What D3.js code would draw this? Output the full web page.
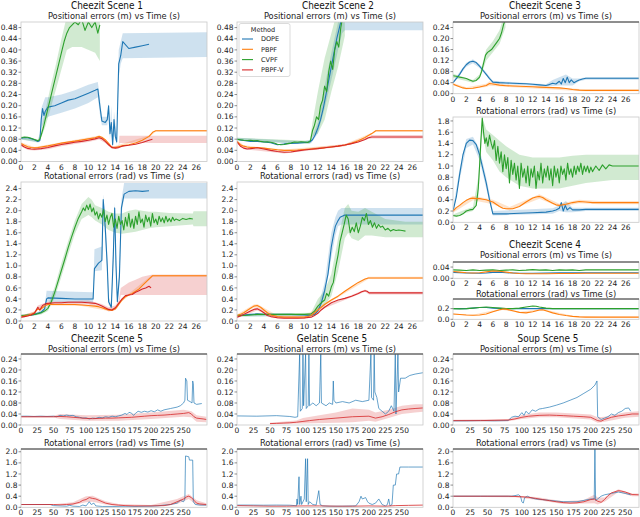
<!DOCTYPE html>
<html>
<head>
<meta charset="utf-8">
<script src="https://cdn.jsdelivr.net/npm/d3@7"></script>
<style>
  body { margin: 0; background: #fff; }
  svg { display: block; font-family: "DejaVu Sans", sans-serif; }
</style>
</head>
<body>
<script>
// methods + colours (matplotlib tab10)
var methods = ["DOPE", "PBPF", "CVPF", "PBPF-V"];
var colors = {"DOPE": "#1f77b4", "PBPF": "#ff7f0e", "CVPF": "#2ca02c", "PBPF-V": "#d62728"};

// tick labels
var xTicksShort = [0, 2, 4, 6, 8, 10, 12, 14, 16, 18, 20, 22, 24, 26];
var xTicksLong = [0, 25, 50, 75, 100, 125, 150, 175, 200, 225, 250];
var yTicksPos48 = [0, 0.04, 0.08, 0.12, 0.16, 0.20, 0.24, 0.28, 0.32, 0.36, 0.40, 0.44, 0.48];
var yTicksRot24 = [0, 0.2, 0.4, 0.6, 0.8, 1.0, 1.2, 1.4, 1.6, 1.8, 2.0, 2.2, 2.4];
var yTicksPos24 = [0, 0.04, 0.08, 0.12, 0.16, 0.20, 0.24];
var yTicksRot18 = [0, 0.2, 0.4, 0.6, 0.8, 1.0, 1.2, 1.4, 1.6, 1.8];
var yTicksPos04 = [0, 0.04];
var yTicksRot02 = [0, 0.2];
var yTicksRot20 = [0, 0.4, 0.8, 1.2, 1.6, 2.0];

// ---------- Cheezit Scene 1, positional: [t, mean] and band [t, lo, hi]
var s1PosDope = [[0,0.083],[0.5,0.086],[1,0.085],[1.5,0.082],[2,0.078],[2.5,0.072],[2.8,0.075],[3.0,0.15],[3.2,0.19],[3.4,0.165],[3.6,0.18],[4,0.195],[5,0.2],[6,0.21],[7,0.22],[8,0.225],[9,0.235],[10,0.245],[11,0.255],[11.4,0.26],[11.7,0.2],[12,0.145],[12.5,0.14],[12.8,0.15],[13.0,0.2],[13.2,0.1],[13.4,0.14],[13.6,0.06],[13.8,0.15],[14.0,0.09],[14.2,0.07],[14.5,0.35],[14.8,0.38],[15.1,0.43],[16,0.405],[17,0.41],[18,0.415],[19,0.42]];
var s1PosDopeBand = [[0,0.079,0.087],[2.5,0.068,0.076],[2.8,0.07,0.08],[3.0,0.12,0.19],[3.6,0.15,0.23],[4,0.16,0.23],[6,0.175,0.24],[8,0.19,0.255],[10,0.21,0.275],[11.4,0.23,0.285],[11.7,0.17,0.23],[12,0.13,0.16],[12.8,0.13,0.16],[13.0,0.17,0.21],[13.2,0.08,0.12],[13.4,0.12,0.2],[13.6,0.05,0.07],[13.8,0.1,0.18],[14.2,0.06,0.09],[14.5,0.3,0.4],[14.8,0.35,0.43],[15.1,0.37,0.46],[27.6,0.375,0.463]];
var s1PosCvpf = [[0,0.085],[0.5,0.088],[1,0.087],[1.5,0.083],[2,0.079],[2.5,0.074],[2.8,0.08],[3.0,0.095],[3.3,0.12],[3.6,0.15],[4,0.19],[4.4,0.23],[4.8,0.27],[5.2,0.31],[5.6,0.35],[6,0.39],[6.4,0.43],[6.8,0.46],[7.2,0.48],[7.6,0.49],[8,0.5],[8.5,0.49],[9,0.51],[9.5,0.47],[10,0.5],[10.5,0.48],[11,0.5],[11.4,0.46],[11.7,0.49]];
var s1PosCvpfBand = [[0,0.08,0.09],[2.5,0.07,0.08],[3.0,0.085,0.11],[3.6,0.125,0.18],[4.4,0.19,0.27],[5.2,0.26,0.35],[6,0.33,0.44],[6.8,0.4,0.52],[7.6,0.41,0.56],[9,0.41,0.58],[11,0.39,0.58],[11.7,0.36,0.58]];
var s1PosPbpf = [[0,0.065],[0.5,0.058],[1,0.053],[1.5,0.05],[2,0.049],[2.5,0.05],[3,0.052],[4,0.056],[5,0.061],[6,0.066],[7,0.07],[8,0.073],[9,0.077],[10,0.081],[11,0.085],[11.6,0.09],[12,0.087],[12.5,0.078],[13,0.065],[13.3,0.055],[13.6,0.05],[14,0.05],[14.5,0.053],[15,0.056],[16,0.06],[17,0.066],[18,0.076],[19,0.09],[19.6,0.106],[20,0.11],[27.6,0.11]];
var s1PosPbpfBand = [[0,0.061,0.069],[2,0.046,0.052],[11.6,0.087,0.093],[13.6,0.047,0.053],[19,0.087,0.093],[20,0.107,0.113],[27.6,0.107,0.113]];
var s1PosPbpfv = [[0,0.06],[0.5,0.052],[1,0.047],[1.5,0.045],[2,0.044],[3,0.046],[4,0.05],[5,0.056],[6,0.061],[7,0.065],[8,0.069],[9,0.072],[10,0.076],[11,0.081],[11.6,0.085],[12,0.082],[12.5,0.072],[13,0.06],[13.5,0.05],[14,0.048],[14.5,0.05],[15,0.055],[16,0.058],[17,0.062],[18,0.068],[19,0.076],[19.5,0.08]];
var s1PosPbpfvBand = [[0,0.055,0.066],[1,0.041,0.053],[2,0.039,0.05],[4,0.044,0.056],[6,0.055,0.067],[8,0.063,0.075],[10,0.07,0.082],[11.6,0.079,0.091],[12.5,0.066,0.078],[13.5,0.045,0.056],[14.5,0.045,0.056],[14.6,0.066,0.092],[27.6,0.066,0.092]];

// ---------- Cheezit Scene 1, rotational
var s1RotDope = [[0,0.1],[1,0.1],[2,0.12],[2.5,0.14],[3,0.16],[3.5,0.22],[3.8,0.4],[4,0.42],[6,0.41],[8,0.4],[10,0.4],[10.7,0.4],[10.9,0.95],[11.5,1.05],[12,1.1],[12.2,2.2],[12.5,1.7],[12.8,1.0],[13.0,0.35],[13.4,0.25],[13.7,1.2],[13.9,2.05],[14.1,1.0],[14.3,0.35],[14.6,0.8],[14.9,2.05],[15.3,2.3],[16,2.35],[17,2.36],[18,2.35],[19,2.36]];
var s1RotDopeBand = [[0,0.08,0.12],[2,0.1,0.14],[3,0.13,0.19],[3.5,0.18,0.26],[3.8,0.35,0.55],[8,0.34,0.53],[10.7,0.33,0.52],[10.9,0.9,1.3],[12,0.92,1.35],[12.2,2.0,2.3],[12.5,1.5,1.9],[12.8,0.8,1.2],[13.0,0.3,0.45],[13.4,0.22,0.3],[13.7,1.0,1.5],[13.9,1.9,2.15],[14.1,0.8,1.2],[14.3,0.3,0.45],[14.6,0.7,1.0],[14.9,1.95,2.2],[15.3,2.22,2.5],[27.6,2.22,2.5]];
var s1RotCvpf = [[0,0.1],[0.5,0.1],[1,0.11],[1.5,0.11],[2,0.12],[2.5,0.13],[3,0.15],[3.5,0.18],[4,0.23],[4.5,0.35],[5,0.52],[5.5,0.72],[6,0.92],[6.5,1.12],[7,1.33],[7.5,1.52],[8,1.7],[8.5,1.86],[9,1.98],[9.25,2.05],[9.5,2.0],[9.75,2.1],[10,2.02],[10.25,2.12],[10.5,1.98],[10.75,2.05],[11,1.92],[11.25,1.98],[11.5,1.85],[11.75,1.95],[12,1.88],[12.25,2.02],[12.5,1.8],[12.75,1.92],[13,1.75],[13.25,1.88],[13.5,1.95],[13.75,1.7],[14,1.85],[14.25,1.68],[14.5,1.9],[14.75,1.75],[15,1.82],[15.25,1.65],[15.5,1.88],[15.75,1.72],[16,1.95],[16.25,1.7],[16.5,1.85],[16.75,1.68],[17,1.9],[17.25,1.75],[17.5,1.98],[17.75,1.78],[18,1.85],[18.25,1.7],[18.5,1.92],[18.75,1.8],[19,1.88],[19.25,1.72],[19.5,1.95],[19.75,1.78],[20,1.85],[20.25,1.75],[20.5,1.9],[20.75,1.8],[21,1.87],[21.25,1.78],[21.5,1.9],[21.75,1.8],[22,1.86],[22.25,1.8],[22.5,1.88],[22.75,1.82],[23,1.85],[23.5,1.82],[24,1.86],[24.5,1.84],[25,1.86],[25.5,1.85]];
var s1RotCvpfBand = [[0,0.08,0.12],[2,0.1,0.14],[3,0.12,0.18],[4,0.18,0.28],[5,0.42,0.62],[6,0.8,1.05],[7,1.2,1.45],[8,1.58,1.82],[9,1.85,2.12],[10,1.92,2.25],[10.5,1.88,2.2],[11,1.82,2.1],[12,1.75,2.05],[13,1.65,1.98],[14,1.6,1.95],[15,1.58,1.95],[16,1.6,2.0],[17,1.62,2.02],[18,1.65,2.0],[19,1.68,1.98],[20,1.7,1.98],[22,1.72,1.96],[25.5,1.75,1.95],[25.6,1.72,1.99],[27.6,1.72,1.99]];
var s1RotPbpf = [[0,0.08],[0.5,0.09],[1,0.1],[1.5,0.12],[2,0.15],[2.5,0.22],[2.8,0.2],[3.2,0.24],[3.6,0.28],[4,0.3],[5,0.3],[6,0.3],[7,0.3],[8,0.3],[9,0.29],[10,0.28],[11,0.27],[11.5,0.26],[12,0.24],[12.5,0.22],[13,0.2],[13.5,0.19],[14,0.22],[14.5,0.3],[15,0.38],[15.5,0.44],[16,0.47],[16.5,0.5],[17,0.54],[17.5,0.58],[18,0.64],[18.5,0.7],[19,0.76],[19.5,0.82],[27.6,0.82]];
var s1RotPbpfBand = [[0,0.06,0.1],[2,0.13,0.17],[2.5,0.2,0.24],[4,0.28,0.32],[9,0.27,0.31],[13,0.18,0.22],[14,0.2,0.24],[15,0.36,0.4],[19.5,0.8,0.84],[27.6,0.8,0.84]];
var s1RotPbpfv = [[0,0.07],[0.5,0.08],[1,0.09],[1.5,0.11],[2,0.14],[2.5,0.25],[2.8,0.2],[3.2,0.28],[3.6,0.31],[4,0.32],[5,0.33],[6,0.33],[7,0.34],[8,0.34],[9,0.34],[10,0.33],[11,0.32],[11.5,0.3],[12,0.27],[12.5,0.24],[13,0.21],[13.5,0.2],[14,0.24],[14.5,0.32],[15,0.4],[15.5,0.46],[16,0.47],[16.5,0.48],[17,0.52],[17.5,0.55],[18,0.58],[18.5,0.6],[19,0.63],[19.3,0.6]];
var s1RotPbpfvBand = [[0,0.05,0.09],[2,0.12,0.17],[2.5,0.22,0.28],[4,0.29,0.35],[10,0.3,0.37],[12,0.24,0.31],[13,0.17,0.25],[14,0.2,0.28],[14.5,0.27,0.37],[14.8,0.47,0.6],[16,0.47,0.7],[17,0.47,0.75],[18,0.47,0.8],[19.3,0.47,0.84],[27.6,0.47,0.84]];

// ---------- Cheezit Scene 2, positional
var s2PosDope = [[0,0.08],[0.5,0.077],[1,0.075],[2,0.072],[3,0.072],[4,0.07],[5,0.067],[6,0.06],[7,0.063],[8,0.065],[9,0.066],[10,0.068],[10.8,0.07],[11.2,0.078],[11.6,0.095],[12,0.12],[12.4,0.15],[12.8,0.19],[13.2,0.24],[13.6,0.29],[14,0.34],[14.4,0.39],[14.8,0.44],[15.2,0.48],[15.6,0.52],[16,0.54],[19.5,0.54]];
var s2PosDopeBand = [[0,0.075,0.085],[10,0.063,0.073],[11,0.065,0.08],[12,0.1,0.14],[13,0.19,0.27],[14,0.29,0.39],[15,0.4,0.5],[15.6,0.46,0.56],[16,0.47,0.56],[27.6,0.47,0.56]];
var s2PosCvpf = [[0,0.08],[0.5,0.078],[1,0.076],[1.5,0.075],[2,0.076],[2.5,0.074],[3,0.075],[3.5,0.072],[4,0.07],[4.5,0.071],[5,0.069],[5.5,0.066],[6,0.062],[6.5,0.06],[7,0.061],[7.5,0.064],[8,0.066],[8.5,0.07],[9,0.069],[9.5,0.071],[10,0.07],[10.5,0.068],[10.9,0.075],[11.2,0.11],[11.5,0.13],[11.8,0.16],[12.1,0.15],[12.4,0.2],[12.7,0.22],[13,0.27],[13.3,0.25],[13.6,0.32],[13.9,0.36],[14.2,0.33],[14.5,0.4],[14.8,0.43],[15.1,0.41],[15.4,0.48],[15.7,0.52],[16,0.56]];
var s2PosCvpfBand = [[0,0.075,0.085],[10.8,0.064,0.074],[11.2,0.09,0.14],[12,0.1,0.25],[13,0.15,0.37],[14,0.25,0.46],[15,0.34,0.55],[16,0.45,0.6]];
var s2PosPbpf = [[0,0.072],[0.5,0.06],[1,0.055],[1.5,0.052],[2,0.05],[3,0.05],[4,0.048],[5,0.045],[6,0.042],[7,0.04],[8,0.04],[9,0.041],[10,0.043],[11,0.045],[12,0.047],[13,0.049],[14,0.052],[15,0.055],[16,0.059],[17,0.065],[18,0.074],[19,0.086],[20,0.1],[20.6,0.11],[27.6,0.11]];
var s2PosPbpfBand = [[0,0.068,0.076],[1,0.052,0.058],[7,0.037,0.043],[16,0.056,0.062],[20,0.097,0.103],[20.6,0.107,0.113],[27.6,0.107,0.113]];
var s2PosPbpfv = [[0,0.07],[0.5,0.055],[1,0.048],[1.5,0.045],[2,0.046],[3,0.049],[4,0.045],[5,0.04],[6,0.036],[7,0.033],[8,0.034],[9,0.038],[10,0.041],[11,0.044],[12,0.046],[13,0.049],[14,0.052],[15,0.055],[16,0.059],[17,0.064],[18,0.07],[19,0.079],[19.5,0.085],[20,0.088],[27.6,0.088]];
var s2PosPbpfvBand = [[0,0.066,0.074],[1,0.044,0.052],[7,0.029,0.037],[16,0.055,0.063],[19.5,0.081,0.089],[20,0.082,0.095],[27.6,0.082,0.095]];

// ---------- Cheezit Scene 2, rotational
var s2RotDope = [[0,0.1],[1,0.11],[2,0.12],[3,0.13],[4,0.12],[6,0.12],[8,0.12],[10,0.11],[11,0.1],[11.5,0.12],[12,0.18],[12.5,0.32],[13,0.55],[13.5,0.85],[13.8,1.15],[14,1.35],[14.3,1.55],[14.6,1.72],[15,1.82],[15.3,1.88],[16,1.92],[27.6,1.92]];
var s2RotDopeBand = [[0,0.08,0.12],[11,0.08,0.12],[12,0.14,0.24],[13,0.45,0.7],[14,1.15,1.6],[14.6,1.55,1.88],[15,1.72,2.0],[15.5,1.75,2.05],[27.6,1.75,2.05]];
var s2RotCvpf = [[0,0.1],[1,0.1],[2,0.11],[3,0.12],[4,0.12],[5,0.12],[6,0.12],[7,0.12],[8,0.12],[9,0.12],[10,0.12],[11,0.13],[11.5,0.18],[12,0.27],[12.5,0.33],[13,0.38],[13.3,0.5],[13.6,0.45],[14,0.62],[14.3,0.7],[14.6,0.95],[15,1.2],[15.3,1.45],[15.6,1.6],[15.9,1.75],[16.2,1.92],[16.5,1.85],[16.8,1.6],[17.1,1.7],[17.4,1.62],[17.7,1.78],[18,1.6],[18.3,1.72],[18.6,1.88],[18.9,1.82],[19.2,1.95],[19.5,1.75],[19.8,1.82],[20.1,1.7],[20.4,1.78],[20.7,1.68],[21,1.75],[21.3,1.7],[21.6,1.72],[22,1.65],[22.4,1.68],[22.8,1.63],[23.2,1.66],[23.6,1.64],[24,1.65],[24.5,1.64],[25,1.63]];
var s2RotCvpfBand = [[0,0.08,0.12],[11,0.1,0.15],[12,0.2,0.4],[13,0.28,0.55],[14,0.45,0.85],[15,0.9,1.5],[16,1.5,2.05],[16.5,1.6,2.12],[17,1.5,2.0],[18,1.45,1.98],[19,1.55,2.05],[20,1.55,1.98],[22,1.52,1.85],[25,1.52,1.8],[27.6,1.52,1.8]];
var s2RotPbpf = [[0,0.1],[0.5,0.12],[1,0.15],[1.5,0.19],[2,0.23],[2.5,0.27],[3,0.28],[3.5,0.25],[4,0.2],[4.5,0.15],[5,0.11],[6,0.08],[7,0.07],[8,0.07],[9,0.07],[10,0.07],[10.5,0.08],[11,0.1],[11.5,0.15],[12,0.2],[12.5,0.25],[13,0.3],[14,0.38],[15,0.45],[16,0.54],[17,0.62],[18,0.7],[19,0.76],[19.5,0.78],[27.6,0.78]];
var s2RotPbpfBand = [[0,0.08,0.12],[2.5,0.24,0.3],[3,0.25,0.31],[6,0.06,0.1],[10,0.05,0.09],[13,0.28,0.32],[19.5,0.76,0.8],[27.6,0.76,0.8]];
var s2RotPbpfv = [[0,0.07],[0.5,0.09],[1,0.12],[1.5,0.15],[2,0.18],[2.5,0.21],[3,0.22],[3.5,0.19],[4,0.15],[4.5,0.1],[5,0.08],[6,0.06],[7,0.05],[8,0.05],[9,0.05],[10,0.055],[11,0.07],[11.5,0.1],[12,0.14],[12.5,0.2],[13,0.25],[14,0.33],[15,0.38],[16,0.41],[17,0.45],[18,0.5],[18.5,0.53],[19,0.55],[19.3,0.54],[19.6,0.51],[27.6,0.51]];
var s2RotPbpfvBand = [[0,0.05,0.09],[3,0.19,0.25],[6,0.04,0.08],[10,0.035,0.075],[13,0.23,0.27],[19,0.53,0.57],[19.6,0.48,0.53],[27.6,0.48,0.53]];

// ---------- Cheezit Scene 3
var s3PosDope = [[0,0.04],[0.5,0.055],[1,0.07],[1.5,0.09],[2,0.105],[2.5,0.115],[3,0.118],[3.5,0.113],[4,0.1],[4.5,0.085],[5,0.07],[5.5,0.055],[6,0.042],[7,0.04],[8,0.039],[9,0.038],[10,0.037],[11,0.036],[12,0.034],[13,0.032],[14,0.03],[14.5,0.033],[15,0.038],[15.5,0.035],[16,0.045],[16.3,0.035],[16.6,0.055],[16.9,0.04],[17.2,0.06],[17.5,0.04],[17.8,0.05],[18.2,0.04],[18.6,0.045],[19,0.05],[19.5,0.053],[20,0.056],[28,0.056]];
var s3PosDopeBand = [[0,0.035,0.045],[2,0.098,0.112],[3,0.11,0.125],[4,0.093,0.107],[6,0.037,0.047],[14,0.026,0.034],[15,0.028,0.05],[16,0.03,0.06],[17,0.03,0.07],[18,0.03,0.055],[19,0.045,0.055],[20,0.051,0.06],[28,0.051,0.06]];
var s3PosCvpf = [[0,0.065],[0.5,0.063],[1,0.06],[1.5,0.058],[2,0.055],[2.5,0.05],[3,0.045],[3.5,0.048],[4,0.06],[4.3,0.08],[4.6,0.11],[4.9,0.14],[5.2,0.15],[5.5,0.155],[5.8,0.16],[6.1,0.17],[6.4,0.18],[6.7,0.19],[7,0.2],[7.3,0.22],[7.6,0.25],[7.9,0.27]];
var s3PosCvpfBand = [[0,0.058,0.072],[3,0.04,0.05],[4,0.052,0.07],[5,0.12,0.16],[6,0.15,0.19],[7,0.18,0.23],[7.9,0.24,0.3]];
var s3PosPbpf = [[0,0.035],[0.5,0.03],[1,0.025],[1.5,0.021],[2,0.019],[3,0.02],[4,0.024],[5,0.03],[5.5,0.037],[6,0.035],[7,0.031],[8,0.029],[9,0.028],[10,0.027],[11,0.026],[12,0.025],[13,0.024],[14,0.023],[15,0.022],[16,0.021],[17,0.019],[18,0.015],[19,0.013],[20,0.012],[28,0.012]];
var s3PosPbpfBand = [[0,0.031,0.039],[2,0.015,0.023],[5,0.024,0.036],[5.5,0.029,0.045],[6,0.028,0.042],[8,0.025,0.033],[18,0.011,0.019],[20,0.009,0.015],[28,0.009,0.015]];
var s3RotDope = [[0,0.2],[0.5,0.45],[1,0.85],[1.5,1.2],[2,1.4],[2.5,1.46],[3,1.45],[3.5,1.38],[4,1.2],[4.5,0.95],[5,0.7],[5.5,0.4],[6,0.15],[7,0.15],[8,0.15],[10,0.16],[12,0.17],[14,0.18],[15,0.2],[15.5,0.22],[16,0.25],[16.3,0.35],[16.6,0.2],[16.9,0.3],[17.2,0.22],[17.6,0.26],[18,0.22],[19,0.22],[20,0.23],[28,0.23]];
var s3RotDopeBand = [[0,0.15,0.25],[1,0.75,0.95],[2,1.32,1.48],[3,1.38,1.52],[4,1.1,1.3],[5,0.6,0.8],[6,0.12,0.2],[15,0.15,0.25],[16,0.2,0.3],[17,0.18,0.38],[18,0.18,0.26],[20,0.2,0.26],[28,0.2,0.26]];
var s3RotCvpf = [[0,0.12],[0.5,0.11],[1,0.12],[1.5,0.15],[2,0.2],[2.5,0.22],[3,0.23],[3.5,0.3],[3.8,0.6],[4,1.0],[4.2,1.45],[4.4,1.85],[4.6,1.6],[4.8,1.4],[5,1.5],[5.25,1.35],[5.5,1.55],[5.75,1.4],[6,1.3],[6.25,1.45],[6.5,1.1],[6.75,1.35],[7,1.05],[7.25,1.25],[7.5,0.9],[7.75,1.2],[8,0.95],[8.25,1.15],[8.5,0.7],[8.75,1.1],[9,0.85],[9.25,1.05],[9.5,0.75],[9.75,1.0],[10,0.6],[10.25,1.05],[10.5,0.8],[10.75,0.95],[11,0.7],[11.25,1.0],[11.5,0.65],[11.75,0.95],[12,0.8],[12.25,1.0],[12.5,0.6],[12.75,0.9],[13,0.75],[13.25,1.05],[13.5,0.7],[13.75,0.95],[14,0.8],[14.25,1.0],[14.5,0.75],[14.75,0.95],[15,0.65],[15.25,1.0],[15.5,0.8],[15.75,0.95],[16,0.7],[16.25,1.0],[16.5,0.85],[16.75,0.95],[17,0.75],[17.25,1.05],[17.5,0.85],[17.75,0.95],[18,0.8],[18.25,1.0],[18.5,0.85],[18.75,1.0],[19,0.9],[19.25,1.05],[19.5,0.85],[19.75,1.0],[20,0.9],[20.25,1.0],[20.5,0.88],[20.75,0.98],[21,0.9],[21.5,1.0],[22,0.92],[22.5,1.02],[23,0.95],[23.5,1.02],[24,1.0],[28,1.0]];
var s3RotCvpfBand = [[0,0.1,0.14],[2,0.17,0.23],[3,0.2,0.27],[3.8,0.4,0.8],[4.4,1.6,1.87],[5,1.25,1.65],[6,1.1,1.55],[7,0.9,1.45],[8,0.8,1.35],[10,0.65,1.2],[12,0.6,1.15],[16,0.6,1.15],[18,0.65,1.18],[20,0.7,1.2],[24,0.75,1.2],[28,0.75,1.2]];
var s3RotPbpf = [[0,0.2],[0.5,0.26],[1,0.3],[1.5,0.35],[2,0.39],[2.5,0.42],[3,0.43],[3.5,0.42],[4,0.42],[4.5,0.41],[5,0.4],[5.5,0.38],[6,0.36],[6.5,0.32],[7,0.28],[7.5,0.25],[8,0.24],[9,0.24],[10,0.28],[11,0.36],[12,0.43],[12.5,0.45],[13,0.46],[13.5,0.44],[14,0.4],[14.5,0.37],[15,0.34],[15.5,0.31],[16,0.3],[17,0.32],[18,0.35],[19,0.37],[20,0.36],[21,0.35],[22,0.35],[28,0.35]];
var s3RotPbpfBand = [[0,0.17,0.23],[3,0.39,0.47],[6,0.32,0.4],[8.5,0.21,0.27],[13,0.42,0.5],[16,0.27,0.33],[19,0.34,0.4],[22,0.32,0.38],[28,0.32,0.38]];

// ---------- Cheezit Scene 4
var s4PosDope = [[0,0.021],[2,0.019],[4,0.018],[5,0.019],[6,0.021],[7,0.022],[8,0.02],[10,0.018],[12,0.018],[14,0.019],[16,0.02],[18,0.02],[20,0.02],[28,0.02]];
var s4PosCvpf = [[0,0.03],[1,0.029],[2,0.028],[3,0.03],[4,0.028],[5,0.029],[6,0.03],[7,0.028],[8,0.029],[9,0.03],[10,0.028],[11,0.029],[12,0.031],[13,0.029],[14,0.03],[15,0.028],[16,0.03],[17,0.029],[18,0.03],[19,0.028],[20,0.03],[22,0.03],[28,0.03]];
var s4PosPbpf = [[0,0.024],[1,0.022],[2,0.02],[3,0.019],[4,0.02],[5,0.023],[6,0.026],[7,0.025],[8,0.022],[9,0.019],[10,0.017],[11,0.016],[12,0.016],[14,0.016],[16,0.017],[18,0.017],[20,0.018],[28,0.018]];
var s4RotDope = [[0,0.2],[2,0.2],[3,0.21],[4,0.22],[5,0.22],[6,0.21],[8,0.2],[10,0.2],[12,0.2],[14,0.2],[16,0.2],[28,0.2]];
var s4RotCvpf = [[0,0.2],[1,0.195],[2,0.2],[3,0.21],[4,0.22],[5,0.23],[6,0.22],[7,0.21],[8,0.2],[9,0.2],[10,0.21],[11,0.23],[12,0.25],[12.5,0.245],[13,0.23],[14,0.21],[15,0.2],[16,0.2],[28,0.2]];
var s4RotPbpf = [[0,0.1],[1,0.09],[2,0.08],[3,0.075],[4,0.08],[5,0.1],[6,0.14],[7,0.18],[7.5,0.19],[8,0.19],[9,0.16],[10,0.13],[11,0.12],[12,0.14],[13,0.175],[13.5,0.18],[14,0.16],[15,0.12],[16,0.09],[17,0.07],[18,0.055],[19,0.045],[20,0.04],[22,0.04],[28,0.04]];
var s4RotPbpfBand = [[0,0.09,0.11],[3,0.065,0.085],[7.5,0.175,0.205],[10,0.12,0.14],[13.5,0.165,0.195],[18,0.045,0.065],[22,0.032,0.048],[28,0.032,0.048]];

// ---------- Cheezit Scene 5 (long runs)
var c5PosDope = [[0,0.032],[10,0.032],[20,0.031],[30,0.032],[40,0.031],[50,0.032],[55,0.03],[60,0.035],[65,0.033],[70,0.036],[75,0.034],[80,0.035],[85,0.03],[90,0.028],[95,0.025],[100,0.026],[105,0.022],[110,0.025],[115,0.024],[120,0.028],[125,0.026],[130,0.03],[135,0.028],[140,0.032],[145,0.03],[150,0.033],[155,0.036],[160,0.042],[163,0.038],[166,0.046],[170,0.043],[173,0.035],[176,0.042],[180,0.05],[185,0.046],[190,0.05],[195,0.047],[200,0.052],[205,0.048],[210,0.055],[215,0.05],[220,0.055],[230,0.06],[240,0.065],[245,0.07],[250,0.08],[252,0.09],[253,0.17],[255,0.16],[256,0.09],[260,0.085],[263,0.08],[264,0.16],[265,0.15],[266,0.08],[270,0.075],[278,0.078]];
var c5PosPbpfv = [[0,0.03],[20,0.03],[40,0.03],[50,0.03],[60,0.031],[70,0.03],[80,0.028],[90,0.026],[100,0.024],[110,0.023],[120,0.024],[130,0.025],[140,0.025],[150,0.026],[160,0.027],[170,0.028],[180,0.03],[190,0.032],[200,0.034],[210,0.035],[220,0.036],[230,0.038],[240,0.04],[250,0.042],[258,0.045],[262,0.04],[266,0.03],[270,0.025],[280,0.022],[285,0.02]];
var c5PosPbpfvBand = [[0,0.027,0.033],[50,0.027,0.034],[60,0.022,0.04],[100,0.015,0.035],[150,0.015,0.037],[200,0.022,0.045],[250,0.03,0.055],[262,0.028,0.05],[270,0.012,0.035],[285,0.01,0.03]];
var c5RotDope = [[0,0.1],[45,0.1],[50,0.06],[60,0.05],[70,0.04],[75,0.07],[80,0.04],[90,0.03],[95,0.08],[100,0.05],[105,0.2],[108,0.1],[112,0.15],[115,0.05],[125,0.03],[140,0.03],[160,0.02],[180,0.03],[200,0.04],[210,0.05],[220,0.08],[230,0.1],[240,0.15],[245,0.25],[250,0.2],[252,0.3],[253,1.85],[258,1.82],[259,1.7],[264,1.7],[265,0.2],[268,0.1],[275,0.08],[285,0.08]];
var c5RotPbpfv = [[0,0.1],[20,0.1],[40,0.1],[50,0.1],[60,0.09],[70,0.1],[80,0.12],[90,0.18],[95,0.25],[100,0.28],[105,0.35],[110,0.32],[115,0.3],[120,0.25],[125,0.2],[130,0.15],[140,0.1],[150,0.08],[160,0.06],[175,0.05],[200,0.05],[220,0.06],[230,0.1],[240,0.2],[250,0.3],[255,0.38],[258,0.4],[262,0.35],[266,0.25],[270,0.15],[275,0.12],[285,0.1]];
var c5RotPbpfvBand = [[0,0.09,0.11],[50,0.09,0.11],[80,0.08,0.18],[100,0.18,0.4],[110,0.2,0.42],[130,0.1,0.22],[150,0.05,0.12],[200,0.03,0.08],[240,0.12,0.3],[258,0.3,0.48],[270,0.08,0.25],[285,0.05,0.15]];

// ---------- Gelatin Scene 5
var g5PosDope = [[0,0.033],[30,0.032],[60,0.034],[80,0.031],[88,0.028],[92,0.03],[95,0.26],[96,0.05],[99,0.06],[100,0.26],[101,0.07],[104,0.26],[105,0.06],[108,0.07],[109,0.26],[110,0.07],[115,0.08],[120,0.07],[125,0.08],[127,0.26],[128,0.08],[135,0.07],[140,0.08],[145,0.075],[146,0.16],[147,0.09],[150,0.08],[160,0.085],[170,0.08],[180,0.09],[190,0.085],[200,0.09],[203,0.26],[204,0.1],[207,0.09],[208,0.26],[209,0.12],[212,0.1],[215,0.06],[220,0.05],[225,0.04],[230,0.05],[234,0.07],[238,0.05],[240,0.26],[241,0.04],[244,0.26],[245,0.12],[248,0.17],[255,0.17],[262,0.18],[270,0.185],[282,0.19]];
var g5PosPbpfv = [[50,0.005],[60,0.006],[70,0.007],[80,0.008],[90,0.01],[100,0.013],[110,0.016],[125,0.02],[150,0.025],[175,0.03],[200,0.032],[210,0.025],[220,0.03],[230,0.038],[240,0.048],[250,0.055],[260,0.058],[270,0.06],[282,0.062]];
var g5PosPbpfvBand = [[50,0.003,0.008],[90,0.005,0.016],[100,0.005,0.025],[150,0.008,0.045],[175,0.01,0.06],[200,0.015,0.055],[210,0.012,0.045],[230,0.025,0.055],[250,0.04,0.07],[270,0.045,0.075],[282,0.048,0.075]];
var g5RotDope = [[0,0.08],[20,0.08],[40,0.075],[60,0.08],[80,0.075],[88,0.06],[90,0.05],[91,0.3],[92,0.1],[94,1.1],[95,0.1],[97,0.4],[98,0.1],[102,0.3],[104,1.75],[105,0.2],[107,1.75],[108,0.1],[110,0.2],[115,0.1],[120,0.08],[124,0.6],[126,0.1],[130,0.05],[140,0.04],[160,0.04],[180,0.05],[185,0.2],[188,0.4],[190,0.3],[195,0.35],[198,0.2],[200,0.15],[205,0.1],[210,0.15],[215,0.3],[220,0.1],[225,0.05],[228,0.1],[230,0.3],[232,0.05],[235,0.1],[237,0.8],[240,0.8],[242,1.2],[245,1.2],[247,1.45],[260,1.45],[282,1.45]];
var g5RotPbpfv = [[0,0.06],[25,0.05],[50,0.04],[75,0.04],[100,0.05],[125,0.05],[150,0.04],[175,0.04],[200,0.05],[225,0.04],[240,0.06],[260,0.07],[282,0.08]];

// ---------- Soup Scene 5
var p5PosDope = [[0,0.015],[20,0.015],[40,0.016],[60,0.015],[80,0.016],[85,0.028],[90,0.032],[95,0.03],[100,0.045],[103,0.035],[106,0.05],[110,0.04],[115,0.055],[120,0.05],[125,0.058],[130,0.06],[140,0.065],[150,0.072],[160,0.08],[170,0.09],[180,0.1],[190,0.115],[200,0.13],[206,0.145],[209,0.16],[210,0.03],[215,0.02],[220,0.025],[225,0.03],[230,0.04],[235,0.035],[240,0.045],[245,0.05],[250,0.06],[255,0.062],[258,0.05]];
var p5PosPbpfv = [[0,0.016],[40,0.016],[80,0.018],[90,0.022],[100,0.028],[110,0.032],[125,0.035],[140,0.036],[150,0.035],[160,0.034],[175,0.032],[190,0.03],[200,0.028],[205,0.022],[210,0.016],[215,0.014],[220,0.02],[230,0.028],[240,0.033],[250,0.036],[260,0.04],[270,0.04]];
var p5PosPbpfvBand = [[0,0.013,0.019],[80,0.014,0.022],[100,0.022,0.036],[125,0.028,0.045],[150,0.028,0.045],[200,0.02,0.038],[210,0.008,0.028],[220,0.012,0.03],[250,0.026,0.046],[270,0.03,0.05]];
var p5RotDope = [[0,0.4],[50,0.4],[85,0.4],[90,0.42],[95,0.45],[98,0.4],[100,0.2],[102,0.15],[104,0.35],[108,0.4],[112,0.35],[120,0.3],[140,0.25],[160,0.2],[180,0.2],[200,0.3],[205,0.3],[206,2.1],[207,0.25],[210,0.3],[215,0.4],[220,0.45],[230,0.5],[240,0.55],[250,0.5],[258,0.45]];
var p5RotPbpfv = [[0,0.4],[40,0.4],[80,0.4],[90,0.39],[100,0.38],[110,0.36],[120,0.32],[130,0.28],[140,0.24],[150,0.2],[160,0.17],[170,0.15],[180,0.16],[190,0.2],[200,0.28],[205,0.3],[210,0.22],[215,0.18],[220,0.28],[225,0.42],[230,0.52],[240,0.6],[245,0.58],[250,0.55],[260,0.46],[270,0.45]];
var p5RotPbpfvBand = [[0,0.38,0.42],[90,0.36,0.42],[120,0.27,0.37],[160,0.12,0.22],[190,0.14,0.26],[205,0.15,0.45],[210,0.1,0.35],[220,0.2,0.35],[240,0.55,0.65],[260,0.4,0.5],[270,0.4,0.5]];

// ---------- layout
var W = 640, H = 517;
var cols = [{x0: 21, x1: 207}, {x0: 237, x1: 423}, {x0: 453, x1: 639}];
var POS = "Positional errors (m) vs Time (s)";
var ROT = "Rotational errors (rad) vs Time (s)";

var panels = [
  {col: 0, top: 22, bottom: 161.5, xMax: 27.6, yMax: 0.50, xt: xTicksShort, yt: yTicksPos48, fmt: ".2f", sub: POS, subY: 18.6, dark: false,
    series: [["DOPE", s1PosDope, s1PosDopeBand], ["CVPF", s1PosCvpf, s1PosCvpfBand], ["PBPF", s1PosPbpf, s1PosPbpfBand], ["PBPF-V", s1PosPbpfv, s1PosPbpfvBand]]},
  {col: 0, top: 182, bottom: 321, xMax: 27.6, yMax: 2.52, xt: xTicksShort, yt: yTicksRot24, fmt: ".1f", sub: ROT, subY: 179, dark: false,
    series: [["DOPE", s1RotDope, s1RotDopeBand], ["CVPF", s1RotCvpf, s1RotCvpfBand], ["PBPF", s1RotPbpf, s1RotPbpfBand], ["PBPF-V", s1RotPbpfv, s1RotPbpfvBand]]},
  {col: 1, top: 22, bottom: 161.5, xMax: 27.6, yMax: 0.50, xt: xTicksShort, yt: yTicksPos48, fmt: ".2f", sub: POS, subY: 18.6, dark: false, legend: true,
    series: [["DOPE", s2PosDope, s2PosDopeBand], ["CVPF", s2PosCvpf, s2PosCvpfBand], ["PBPF", s2PosPbpf, s2PosPbpfBand], ["PBPF-V", s2PosPbpfv, s2PosPbpfvBand]]},
  {col: 1, top: 182, bottom: 321, xMax: 27.6, yMax: 2.52, xt: xTicksShort, yt: yTicksRot24, fmt: ".1f", sub: ROT, subY: 179, dark: false,
    series: [["DOPE", s2RotDope, s2RotDopeBand], ["CVPF", s2RotCvpf, s2RotCvpfBand], ["PBPF", s2RotPbpf, s2RotPbpfBand], ["PBPF-V", s2RotPbpfv, s2RotPbpfvBand]]},
  {col: 2, top: 22, bottom: 93.7, xMax: 28, yMax: 0.26, xt: xTicksShort, yt: yTicksPos24, fmt: ".2f", sub: POS, subY: 18.6, dark: true,
    series: [["DOPE", s3PosDope, s3PosDopeBand], ["CVPF", s3PosCvpf, s3PosCvpfBand], ["PBPF", s3PosPbpf, s3PosPbpfBand]]},
  {col: 2, top: 117, bottom: 222.3, xMax: 28, yMax: 1.87, xt: xTicksShort, yt: yTicksRot18, fmt: ".1f", sub: ROT, subY: 113.5, dark: false,
    series: [["DOPE", s3RotDope, s3RotDopeBand], ["CVPF", s3RotCvpf, s3RotCvpfBand], ["PBPF", s3RotPbpf, s3RotPbpfBand]]},
  {col: 2, top: 262, bottom: 278.3, xMax: 28, yMax: 0.058, xt: xTicksShort, yt: yTicksPos04, fmt: ".2f", sub: POS, subY: 258, dark: true,
    series: [["DOPE", s4PosDope, null], ["CVPF", s4PosCvpf, null], ["PBPF", s4PosPbpf, null]]},
  {col: 2, top: 299, bottom: 319.3, xMax: 28, yMax: 0.38, xt: xTicksShort, yt: yTicksRot02, fmt: ".1f", sub: ROT, subY: 297, dark: true,
    series: [["DOPE", s4RotDope, null], ["CVPF", s4RotCvpf, null], ["PBPF", s4RotPbpf, s4RotPbpfBand]]},
  {col: 0, top: 354, bottom: 425, xMax: 286, yMax: 0.258, xt: xTicksLong, yt: yTicksPos24, fmt: ".2f", sub: POS, subY: 351.5, dark: true,
    series: [["DOPE", c5PosDope, null], ["PBPF-V", c5PosPbpfv, c5PosPbpfvBand]]},
  {col: 0, top: 449, bottom: 507.3, xMax: 286, yMax: 2.1, xt: xTicksLong, yt: yTicksRot20, fmt: ".1f", sub: ROT, subY: 445.5, dark: true,
    series: [["DOPE", c5RotDope, null], ["PBPF-V", c5RotPbpfv, c5RotPbpfvBand]]},
  {col: 1, top: 354, bottom: 425, xMax: 282, yMax: 0.258, xt: xTicksLong, yt: yTicksPos24, fmt: ".2f", sub: POS, subY: 351.5, dark: true,
    series: [["DOPE", g5PosDope, null], ["PBPF-V", g5PosPbpfv, g5PosPbpfvBand]]},
  {col: 1, top: 449, bottom: 507.3, xMax: 282, yMax: 2.1, xt: xTicksLong, yt: yTicksRot20, fmt: ".1f", sub: ROT, subY: 445.5, dark: true,
    series: [["DOPE", g5RotDope, null], ["PBPF-V", g5RotPbpfv, null]]},
  {col: 2, top: 354, bottom: 425, xMax: 270, yMax: 0.258, xt: xTicksLong, yt: yTicksPos24, fmt: ".2f", sub: POS, subY: 351.5, dark: true,
    series: [["DOPE", p5PosDope, null], ["PBPF-V", p5PosPbpfv, p5PosPbpfvBand]]},
  {col: 2, top: 449, bottom: 507.3, xMax: 270, yMax: 2.1, xt: xTicksLong, yt: yTicksRot20, fmt: ".1f", sub: ROT, subY: 445.5, dark: true,
    series: [["DOPE", p5RotDope, null], ["PBPF-V", p5RotPbpfv, p5RotPbpfvBand]]}
];

var titles = [
  ["Cheezit Scene 1", 107, 8.8], ["Cheezit Scene 2", 338, 8.8], ["Cheezit Scene 3", 545, 8.8],
  ["Cheezit Scene 4", 545, 247.5], ["Cheezit Scene 5", 107, 341.5], ["Gelatin Scene 5", 332, 341.5], ["Soup Scene 5", 548, 341.5]
];

var svg = d3.select("body").append("svg").attr("width", W).attr("height", H);

function txt(g, s, x, y, size, anchor, fill, sx) {
  return g.append("text")
    .attr("transform", "translate(" + x + "," + y + ") scale(" + (sx || 1) + ",1)")
    .attr("text-anchor", anchor)
    .attr("font-size", size)
    .attr("fill", fill || "#222")
    .text(s);
}

panels.forEach(function(p, pi) {
  var c = cols[p.col];
  var x = d3.scaleLinear().domain([0, p.xMax]).range([c.x0, c.x1]);
  var y = d3.scaleLinear().domain([0, p.yMax]).range([p.bottom, p.top]);
  var g = svg.append("g");
  var longRun = p.xMax > 100;

  g.append("clipPath").attr("id", "clip" + pi)
    .append("rect").attr("x", c.x0).attr("y", p.top).attr("width", c.x1 - c.x0).attr("height", p.bottom - p.top);

  var plot = g.append("g").attr("clip-path", "url(#clip" + pi + ")");

  var area = d3.area().x(function(d) { return x(d[0]); }).y0(function(d) { return y(d[1]); }).y1(function(d) { return y(d[2]); });
  var line = d3.line().x(function(d) { return x(d[0]); }).y(function(d) { return y(d[1]); });

  // bands first, then lines on top
  p.series.forEach(function(s) {
    if (s[2]) plot.append("path").attr("d", area(s[2])).attr("fill", colors[s[0]]).attr("fill-opacity", 0.22);
  });
  p.series.forEach(function(s) {
    plot.append("path").attr("d", line(s[1])).attr("fill", "none")
      .attr("stroke", colors[s[0]]).attr("stroke-width", longRun ? 0.8 : 1.1)
      .attr("stroke-opacity", longRun && s[0] === "DOPE" ? 0.85 : 1)
      .attr("stroke-linejoin", "round");
  });

  // frame
  g.append("rect").attr("x", c.x0).attr("y", p.top).attr("width", c.x1 - c.x0).attr("height", p.bottom - p.top)
    .attr("fill", "none").attr("stroke", "#c8c8c8").attr("stroke-width", 0.8);
  if (p.dark) {
    g.append("line").attr("x1", c.x0).attr("x2", c.x1).attr("y1", p.top).attr("y2", p.top)
      .attr("stroke", "#333").attr("stroke-width", 1);
  }

  // y ticks
  var f = d3.format(p.fmt);
  p.yt.forEach(function(v) {
    g.append("line").attr("x1", c.x0 - 2.5).attr("x2", c.x0).attr("y1", y(v)).attr("y2", y(v)).attr("stroke", "#444").attr("stroke-width", 0.6);
    txt(g, f(v), c.x0 - 3.5, y(v) + 2.6, 7.5, "end");
  });
  // x ticks
  p.xt.forEach(function(v) {
    txt(g, String(v), x(v), p.bottom + 8, 7.5, "middle");
  });

  txt(g, p.sub, (c.x0 + c.x1) / 2, p.subY, 8.3, "middle");

  if (p.legend) {
    var lg = g.append("g");
    lg.append("rect").attr("x", 239).attr("y", 23.5).attr("width", 51).attr("height", 53).attr("rx", 2)
      .attr("fill", "#fff").attr("fill-opacity", 0.85).attr("stroke", "#ccc").attr("stroke-width", 0.7);
    txt(lg, "Method", 263, 31.5, 6.5, "middle");
    methods.forEach(function(m, i) {
      var ly = 39 + i * 10.3;
      lg.append("line").attr("x1", 242).attr("x2", 253).attr("y1", ly).attr("y2", ly)
        .attr("stroke", colors[m]).attr("stroke-width", 1.1);
      txt(lg, m, 261, ly + 2.3, 6.5, "start");
    });
  }
});

titles.forEach(function(t) {
  txt(svg, t[0], t[1], t[2], 10.5, "middle", "#111", 0.85);
});
</script>
</body>
</html>
